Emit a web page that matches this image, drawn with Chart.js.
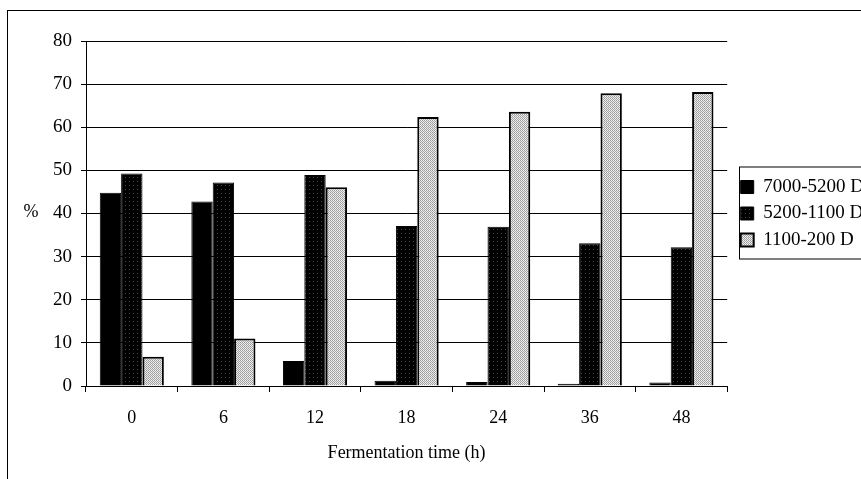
<!DOCTYPE html>
<html>
<head>
<meta charset="utf-8">
<script src="https://cdn.jsdelivr.net/npm/chart.js@4"></script>
<style>
  html, body { margin: 0; padding: 0; background: #fff; }
  #wrap { position: relative; width: 861px; height: 479px; }
  #frame { position: absolute; left: 7px; top: 10px; width: 860px; height: 470px;
           border-left: 1px solid #000; border-top: 1px solid #000; }
  canvas { position: absolute; left: 0; top: 0; }
</style>
</head>
<body>
<div id="wrap">
  <div id="frame"></div>
  <canvas id="bar-chart" width="861" height="479"></canvas>
</div>
<script>
// data
const categories = ["0", "6", "12", "18", "24", "36", "48"];
const seriesNames = ["7000-5200 D", "5200-1100 D", "1100-200 D"];
const high = [44.8, 42.8, 5.8, 1.2, 0.9, 0.5, 0.8];
const middle = [49.3, 47.2, 48.9, 37.1, 36.9, 33.1, 32.2];
const low = [6.8, 11.0, 46.1, 62.4, 63.6, 67.9, 68.2];
const yTicks = [0, 10, 20, 30, 40, 50, 60, 70, 80];

// small dither patterns to mimic the printed fills
function makePattern(size, cells) {
    const c = document.createElement("canvas");
    c.width = size; c.height = size;
    const g = c.getContext("2d");
    cells.forEach(function (row, y) {
        row.forEach(function (col, x) {
            g.fillStyle = col;
            g.fillRect(x, y, 1, 1);
        });
    });
    return g.createPattern(c, "repeat");
}
const darkFill = makePattern(4, [
    ["#000", "#000", "#000", "#000"],
    ["#000", "#444", "#000", "#000"],
    ["#000", "#000", "#000", "#000"],
    ["#000", "#000", "#000", "#000"]
]);
const lightFill = makePattern(2, [
    ["#9a9a9a", "#f2f2f2"],
    ["#e6e6e6", "#a8a8a8"]
]);

const serif = "'Liberation Serif', 'Times New Roman', serif";

// "%" written horizontally left of the axis, plus the legend frame
const extras = {
    id: "extras",
    afterLayout: function (chart) {
        // keep the legend beside the plot, nudged right like the print
        chart.legend.left += 6;
        chart.legend.right += 6;
        chart.legend.top = chart.chartArea.top;
        chart.legend.bottom = chart.chartArea.bottom;
    },
    afterDraw: function (chart) {
        const ctx = chart.ctx;
        ctx.save();
        ctx.fillStyle = "#000";
        ctx.font = "18px " + serif;
        ctx.textAlign = "center";
        ctx.textBaseline = "middle";
        ctx.fillText("%", 31, 212);
        const boxes = chart.legend.legendHitBoxes;
        if (boxes && boxes.length) {
            const first = boxes[0], last = boxes[boxes.length - 1];
            ctx.strokeStyle = "#000";
            ctx.lineWidth = 1;
            ctx.strokeRect(739.5, first.top - 10.5, 140, last.top + last.height - first.top + 20);
        }
        ctx.restore();
    }
};

new Chart(document.getElementById("bar-chart"), {
    type: "bar",
    data: {
        labels: categories,
        datasets: [{
            label: seriesNames[0],
            data: high,
            backgroundColor: "#000",
            borderColor: "#000",
            borderWidth: 1
        }, {
            label: seriesNames[1],
            data: middle,
            backgroundColor: darkFill,
            borderColor: "#000",
            borderWidth: 1
        }, {
            label: seriesNames[2],
            data: low,
            backgroundColor: lightFill,
            borderColor: "#000",
            borderWidth: 2
        }]
    },
    options: {
        responsive: false,
        animation: false,
        layout: { padding: { left: 0, top: 41, right: -7, bottom: 0 } },
        datasets: {
            bar: { categoryPercentage: 0.7, barPercentage: 1.0 }
        },
        plugins: {
            tooltip: { enabled: false },
            legend: {
                position: "right",
                align: "center",
                labels: {
                    color: "#000",
                    font: { family: serif, size: 19 },
                    boxWidth: 13,
                    boxHeight: 13,
                    padding: 7.5
                }
            }
        },
        scales: {
            x: {
                grid: {
                    offset: true,
                    drawOnChartArea: false,
                    drawTicks: true,
                    tickLength: 6,
                    color: "#000"
                },
                border: { display: true, color: "#000", width: 1 },
                ticks: {
                    color: "#000",
                    padding: 15,
                    font: { family: serif, size: 18 }
                },
                title: {
                    display: true,
                    text: "Fermentation time (h)",
                    color: "#000",
                    font: { family: serif, size: 18 },
                    padding: { top: 0, bottom: 15 }
                },
                afterFit: function (scale) { scale.height = 93; }
            },
            y: {
                min: 0,
                max: 80,
                afterBuildTicks: function (scale) {
                    scale.ticks = yTicks.map(function (v) { return { value: v }; });
                },
                grid: {
                    color: "#000",
                    lineWidth: 1,
                    drawTicks: true,
                    tickLength: 5
                },
                border: { display: true, color: "#000", width: 1 },
                ticks: {
                    color: "#000",
                    padding: 9,
                    font: { family: serif, size: 19 }
                },
                afterFit: function (scale) { scale.width = 86; }
            }
        }
    },
    plugins: [extras]
});
</script>
</body>
</html>
